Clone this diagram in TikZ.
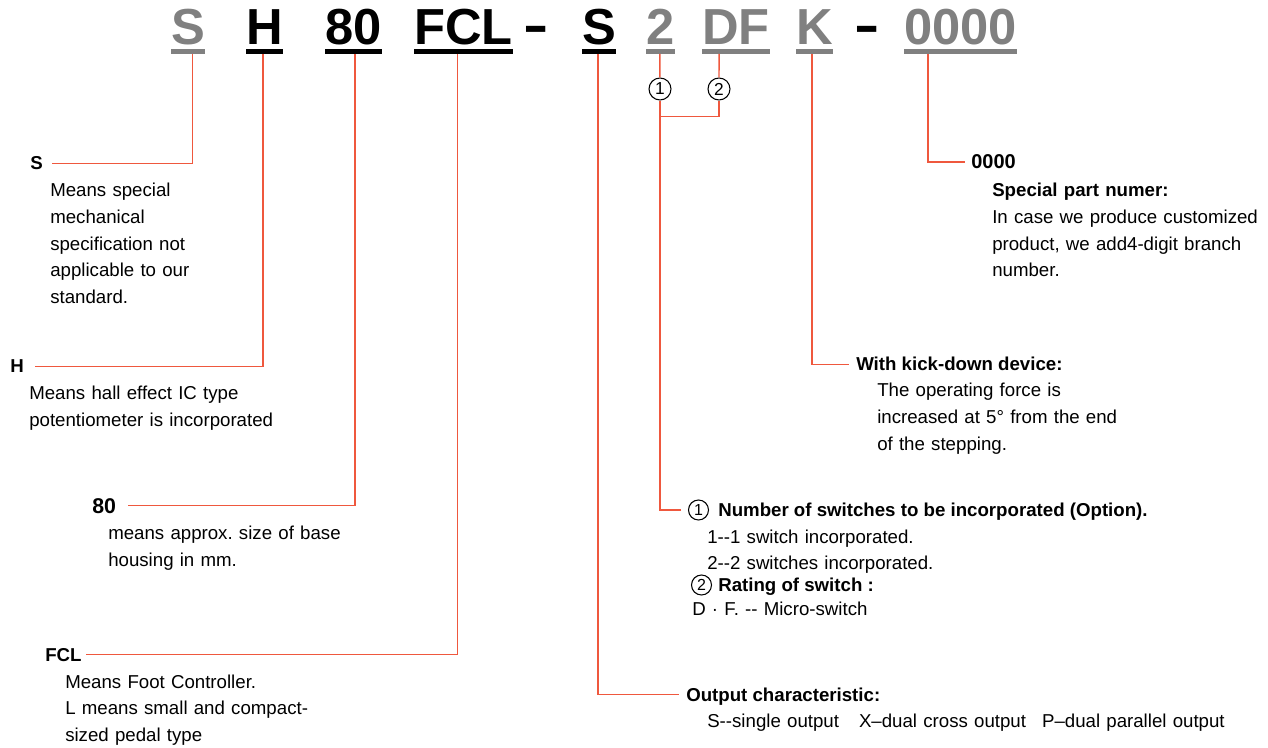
\documentclass[tikz,border=0pt]{standalone}
\usepackage{fontspec}
\setmainfont{Liberation Sans}
\usetikzlibrary{calc}
\frenchspacing
\definecolor{leadred}{RGB}{239,88,62}
\definecolor{codegray}{RGB}{128,128,128}
\tikzset{
  lead/.style={draw=leadred, line width=1.1pt},
  codepart/.style={anchor=base west, inner sep=0pt, font=\fontsize{38}{40}\selectfont\bfseries},
  keylabel/.style={anchor=base west, inner sep=0pt, text depth=0pt, font=\fontsize{14}{20}\selectfont\bfseries},
  desc/.style={anchor=base west, inner sep=0pt, align=left, text width=9cm, font=\fontsize{14}{20}\selectfont},
  numring/.style={draw, circle, inner sep=0pt, minimum size=16.5pt, line width=0.8pt, font=\fontsize{13}{13}\selectfont},
  smallring/.style={numring, minimum size=15pt, font=\fontsize{12}{12}\selectfont}
}
\begin{document}
\begin{tikzpicture}[x=0.75pt,y=-0.75pt]
    \path[use as bounding box, fill=white] (0,0) rectangle (1268,748);
    % Code parts with their bars
    \foreach \nm/\x/\txt/\col in {S/171/S/codegray, H/246/H/black, 80/325/80/black,
        FCL/414/FCL/black, S2/582/S/black, 2/646/2/codegray, DF/702/DF/codegray,
        K/796/K/codegray, 0000/904/0000/codegray} {
        \node[codepart, text=\col] (c\nm) at (\x,45) {\txt};
        \draw[line width=3.75pt, draw=\col] ([yshift=-4.9pt]c\nm.base west) -- ([yshift=-4.9pt]c\nm.base east);
    }
    \node[codepart, anchor=base] (dash1) at (536.5,42.5) {\scalebox{1.5}[1]{-}};
    \node[codepart, anchor=base] (dash2) at (867,42.5) {\scalebox{1.5}[1]{-}};
    % Tick points under the bars
    \foreach \nm/\f in {S/0.62, H/0.46, 80/0.53, FCL/0.44, S2/0.47, 2/0.48, DF/0.25, K/0.43, 0000/0.21}
        \coordinate (t\nm) at ($(c\nm.base west)!\f!(c\nm.base east)+(0,9)$);
    % Rings under 2 and DF
    \node[numring] (r1) at (660,89) {1};
    \node[numring] (r2) at (719,89) {2};
    \coordinate (rjoin) at ($(r1.south)+(0,16)$);

    % Left side labels
    \node[keylabel] (lS) at (30,170) {S};
    \node[desc] (dS) at (50,197) {Means special\\mechanical\\specification not\\applicable to our\\standard.};
    \node[keylabel] (lH) at (10,373) {H};
    \node[desc] (dH) at (29,400) {Means hall effect IC type\\potentiometer is incorporated};
    \node[keylabel, font=\fontsize{16}{20}\selectfont\bfseries] (l80) at (92,513) {80};
    \node[desc] (d80) at (108,540) {means approx. size of base\\housing in mm.};
    \node[keylabel] (lFCL) at (45,661) {FCL};
    \node[desc] (dFCL) at (65,688) {Means Foot Controller.\\L means small and compact-\\sized pedal type};

    % Right side labels
    \node[keylabel, font=\fontsize{15}{20}\selectfont\bfseries] (l0000) at (971,169) {0000};
    \node[desc] (d0000) at (992,197) {\textbf{Special part numer:}\\In case we produce customized\\product, we add4-digit branch\\number.};
    \node[keylabel] (lKick) at (856,371) {With kick-down device:};
    \node[desc] (dKick) at (877,397) {The operating force is\\increased at 5° from the end\\of the stepping.};
    \node[smallring] (m1) at (698.5,510) {1};
    \node[keylabel] (lNum) at (718,517) {Number of switches to be incorporated (Option).};
    \node[desc] (dNum1) at (707,543) {1-{}-1 switch incorporated.};
    \node[desc] (dNum2) at (707,569) {2-{}-2 switches incorporated.};
    \node[smallring] (m2) at (701.5,585) {2};
    \node[keylabel] (lRate) at (718,591) {Rating of switch :};
    \node[desc] (dRate) at (692,615) {D · F. -{}- Micro-switch};
    \node[keylabel] (lOut) at (686,701) {Output characteristic:};
    \node[desc, text width=15cm] (dOut) at (707,727) {S-{}-single output\hspace{15pt}X–dual cross output\hspace{12pt}P–dual parallel output};

    % Leader lines
    \draw[lead, shorten >=7pt] (tS) |- (lS);
    \draw[lead, shorten >=8pt] (tH) |- (lH);
    \draw[lead, shorten >=9pt] (t80) |- (l80);
    \draw[lead, shorten >=3.5pt] (tFCL) |- (lFCL);
    \draw[lead, shorten >=5pt] (tS2) |- (lOut);
    \draw[lead] (t2) -- (r1);
    \draw[lead] (tDF) -- (r2);
    \draw[lead] (r2) |- (rjoin);
    \draw[lead, shorten >=5pt] (r1) |- (m1);
    \draw[lead, shorten >=5pt] (tK) |- (lKick);
    \draw[lead, shorten >=4.5pt] (t0000) |- (l0000);
\end{tikzpicture}
\end{document}
